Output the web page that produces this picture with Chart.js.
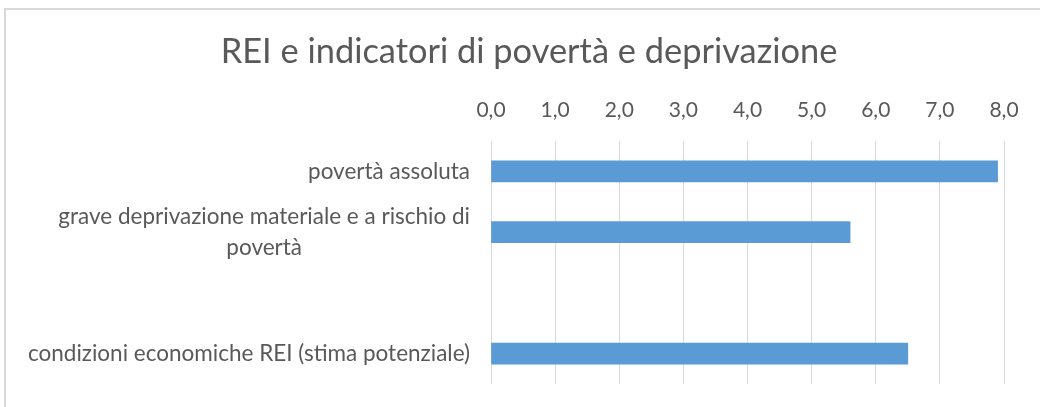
<!DOCTYPE html>
<html>
<head>
<meta charset="utf-8">
<script src="https://cdn.jsdelivr.net/npm/chart.js@4/dist/chart.umd.min.js"></script>
<style>
  body { margin: 0; background: #fff; }
  #wrap { position: relative; width: 1040px; height: 407px; overflow: hidden; }
  #frame {
    position: absolute; left: 4px; top: 8px; width: 1100px; height: 500px;
    border-top: 2px solid #d9d9d9; border-left: 2px solid #d9d9d9;
    pointer-events: none;
  }
</style>
</head>
<body>
<div id="wrap">
  <canvas id="chart" width="1040" height="407"></canvas>
  <div id="frame"></div>
</div>
<script>
// Chart data (top to bottom); the empty category is a gap in the original
const chartTitle = 'REI e indicatori di povertà e deprivazione';
const categories = [
  'povertà assoluta',
  ['grave deprivazione materiale e a rischio di', 'povertà'],
  '',
  'condizioni economiche REI (stima potenziale)'
];
const values = [7.9, 5.6, null, 6.5];
const tickValues = [0, 1, 2, 3, 4, 5, 6, 7, 8];

const textColor = '#595959';
const fontFamily = 'Lato, "Open Sans", sans-serif';
const labelSize = 22.5;
const titleSize = 34.4;

// Title is centred on the whole frame (not the padded layout box), so draw it here
// Y labels: multi-line labels are centred on their widest line, block right-aligned
const textPlugin = {
  id: 'textPlugin',
  afterDraw(chart) {
    const ctx = chart.ctx;
    const yScale = chart.scales.y;
    ctx.save();
    ctx.fillStyle = textColor;
    ctx.textBaseline = 'middle';
    ctx.textAlign = 'center';

    ctx.font = `${titleSize}px ${fontFamily}`;
    ctx.fillText(chartTitle, 529, 52);

    const right = chart.chartArea.left - 21;
    const lineHeight = 31;
    ctx.font = `${labelSize}px ${fontFamily}`;
    categories.forEach((label, i) => {
      const lines = Array.isArray(label) ? label : [label];
      const maxW = Math.max(...lines.map(l => ctx.measureText(l).width));
      const cx = right - maxW / 2;
      const cy = yScale.getPixelForTick(i);
      lines.forEach((line, j) => {
        const y = cy + (j - (lines.length - 1) / 2) * lineHeight;
        ctx.fillText(line, cx, y);
      });
    });
    ctx.restore();
  }
};

new Chart(document.getElementById('chart'), {
  type: 'bar',
  data: {
    labels: categories,
    datasets: [{
      data: values,
      backgroundColor: '#5b9bd5',
      barThickness: 21
    }]
  },
  options: {
    indexAxis: 'y',
    responsive: false,
    animation: false,
    layout: { padding: { left: 0, right: 36, top: 0, bottom: 23 } },
    plugins: {
      legend: { display: false },
      tooltip: { enabled: false },
      title: { display: false }
    },
    scales: {
      x: {
        position: 'top',
        min: 0,
        max: 8,
        afterBuildTicks: (scale) => {
          scale.ticks = tickValues.map(v => ({ value: v }));
        },
        afterFit: (scale) => { scale.height = 141; },
        grid: { color: '#d9d9d9', lineWidth: 1, drawTicks: false },
        border: { display: false },
        ticks: {
          color: textColor,
          padding: 18.4,
          font: { family: fontFamily, size: 21 },
          callback: (v) => v.toFixed(1).replace('.', ',')
        }
      },
      y: {
        grid: { display: false },
        border: { display: false },
        ticks: { display: false },
        afterFit: (scale) => { scale.width = 491; }
      }
    }
  },
  plugins: [textPlugin]
});
</script>
</body>
</html>
